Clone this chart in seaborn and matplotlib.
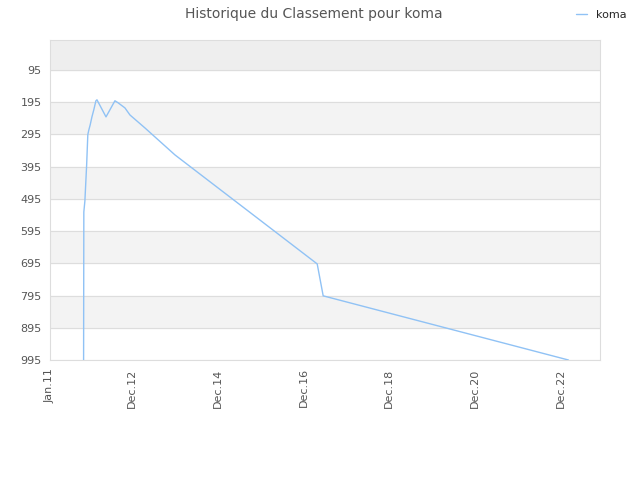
import numpy as np
import pandas as pd
import matplotlib
matplotlib.use("Agg")
import matplotlib.pyplot as plt
import matplotlib.dates as mdates
import seaborn as sns

# données
dates = ["2011-10-15", "2011-10-17", "2011-10-26", "2011-11-10", "2011-11-20",
         "2011-11-29", "2011-12-10", "2011-12-25", "2012-01-10", "2012-01-28",
         "2012-02-06", "2012-04-23", "2012-07-08", "2012-08-03", "2012-10-01",
         "2012-11-13", "2013-03-20", "2013-12-02", "2017-03-28", "2017-05-18",
         "2023-02-06"]
classement = [995, 536, 502, 390, 296,
              281, 266, 241, 219, 191,
              188, 241, 191, 197, 213,
              235, 275, 359, 697, 796,
              995]
y_ticks = [95, 195, 295, 395, 495, 595, 695, 795, 895, 995]
x_tick_dates = ["2011-01-01", "2012-12-01", "2014-12-01", "2016-12-01",
                "2018-12-01", "2020-12-01", "2022-12-01"]
x_tick_labels = ["Jan.11", "Dec.12", "Dec.14", "Dec.16", "Dec.18", "Dec.20", "Dec.22"]

df = pd.DataFrame({"date": pd.to_datetime(dates), "rang": classement})

sns.set_style("white")
plt.rcParams['font.family'] = ['DejaVu Sans']

fig = plt.figure(figsize=(6.4, 4.8), dpi=100)
ax = fig.add_axes([0.078, 0.25, 0.86, 0.667])

# bandes alternées
ax.axhspan(0, 95, color="#eeeeee", zorder=0)
for i, lo in enumerate(y_ticks[:-1]):
    if i % 2 == 1:
        ax.axhspan(lo, lo + 100, color="#f3f3f3", zorder=0)
for t in y_ticks:
    ax.axhline(t, color="#dddddd", lw=0.8, zorder=1)

sns.lineplot(data=df, x="date", y="rang", ax=ax, color="#90c2f5", lw=1.0,
             label="koma", legend=False, zorder=3)

ax.set_ylim(995, 2)
ax.set_xlim(pd.Timestamp("2011-01-01"), pd.Timestamp("2023-11-05"))
ax.set_yticks(y_ticks)
ax.set_xticks(pd.to_datetime(x_tick_dates))
ax.set_xticklabels(x_tick_labels, rotation=90)
ax.tick_params(colors="#555555", labelsize=8, length=0, pad=6)
ax.set_xlabel("")
ax.set_ylabel("")
for s in ax.spines.values():
    s.set_color("#dddddd")
    s.set_linewidth(0.8)

fig.suptitle("Historique du Classement pour koma", x=0.49, y=0.985,
             fontsize=10, color="#555555")
fig.legend(*ax.get_legend_handles_labels(), loc="upper right",
           bbox_to_anchor=(0.995, 1.0), frameon=False, fontsize=8,
           handlelength=1.0, handletextpad=0.8)

fig.savefig("out.png", dpi=100)
